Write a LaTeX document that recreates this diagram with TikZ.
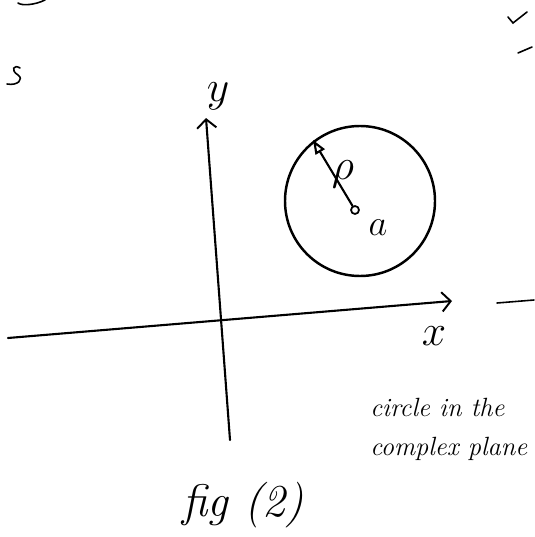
\documentclass[tikz,border=0pt]{standalone}
\usetikzlibrary{arrows.meta}
\tikzset{
    pen/.style={line width=1.2pt, black, line cap=round},
    scrawl/.style={font=\fontsize{15}{22}\selectfont\itshape, align=left, inner sep=0pt},
    axis tip/.style={-{Straight Barb[length=5pt,width=11pt,line width=1.1pt]}}
}

\begin{document}
\begin{tikzpicture}[x=0.02cm, y=-0.02cm]
    \useasboundingbox (0,0) rectangle (534,537);
    \coordinate (Xstart) at (8, 338);
    \coordinate (Xend) at (452, 301);
    \coordinate (Ybot) at (230, 440);
    \coordinate (Ytop) at (206, 118);
    \coordinate (Rim) at (313, 140);

    % axes
    \draw [pen, axis tip] (Xstart) -- (Xend);
    \draw [pen, axis tip] (Ybot) -- (Ytop);
    \node [scrawl, font=\fontsize{24}{24}\selectfont] (ylab) at (218, 96) {$y$};
    \node [scrawl, font=\fontsize{24}{24}\selectfont] (xlab) at (434, 336) {$x$};

    % circle of radius rho about a
    \draw [pen, line width=1.4pt] (360, 201) circle [radius=75];
    \node [circle, draw, line width=1pt, inner sep=1.6pt] (Ctr) at (355, 210) {};
    \draw [pen, -{Triangle[open,length=8pt,width=6pt]}] (Ctr) -- (Rim);
    \node [scrawl, font=\fontsize{24}{24}\selectfont] (rholab) at (343, 174) {$\rho$};
    \node [scrawl, font=\fontsize{22}{22}\selectfont] (alab) at (378, 228) {$a$};

    % captions
    \node [scrawl, anchor=north west] (caption) at (370, 398) {circle in the\\complex plane};
    \node [scrawl, font=\fontsize{26}{26}\selectfont\itshape] (figlab) at (243, 505) {fig (2)};

    % stray marks at the page edges
    \draw [pen, line width=0.9pt] (18, 3) .. controls (22, 6) and (35, 5) .. (45, 0);
    \draw [pen, line width=0.9pt] (20, 68) .. controls (14, 64) and (10, 70) .. (18, 75)
        .. controls (24, 79) and (18, 86) .. (7, 84);
    \draw [pen, line width=0.9pt] (508, 17) -- (513, 23) -- (527, 12);
    \draw [pen, line width=0.9pt] (518, 53) -- (532, 47);
    \draw [pen, line width=0.9pt] (497, 303) -- (534, 300);
\end{tikzpicture}
\end{document}
